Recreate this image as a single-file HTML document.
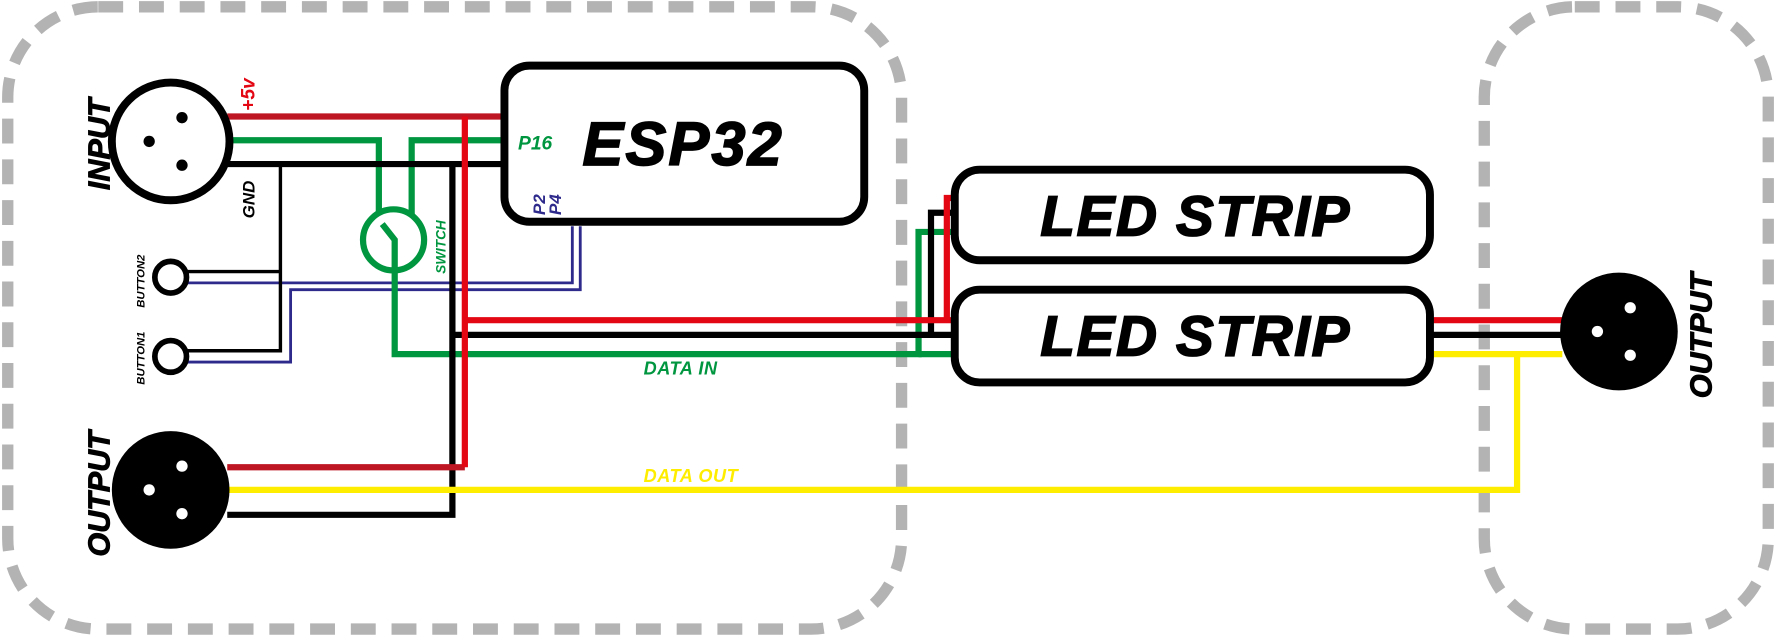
<!DOCTYPE html>
<html><head><style>html,body{margin:0;padding:0;background:#fff}svg{display:block}
text{font-family:"Liberation Sans",sans-serif;font-weight:bold;font-style:italic}</style></head>
<body>
<svg width="1776" height="637" viewBox="0 0 1568 563" xmlns="http://www.w3.org/2000/svg">
<g fill="none" stroke="#b3b3b3" stroke-width="10" stroke-dasharray="22 14">
<rect x="6" y="6" width="790" height="550" rx="80"/>
<rect x="1311" y="6" width="251" height="550" rx="80"/>
</g>
<g fill="none" stroke-width="5.5">
<g stroke="#2e2a8c" stroke-width="2.5">
<polyline points="165,250 505,250 505,200"/>
<polyline points="165,320 256,320 256,256 512,256 512,200"/>
</g>
<g stroke="#000" stroke-width="3">
<polyline points="247,145 247,310 165,310"/>
<line x1="165" y1="240" x2="247" y2="240"/>
</g>
<polyline stroke="#be1622" points="200,103 445,103"/>
<polyline stroke="#009640" points="200,124 334,124 334,190"/>
<polyline stroke="#009640" points="445,124 363,124 363,190"/>
<polyline stroke="#000" points="200,145 445,145"/>
<circle cx="347" cy="212" r="27" stroke="#009640"/>
<polyline stroke="#009640" points="337,198 348,212 348,313 811,313 811,205 843,205"/>
<polyline stroke="#009640" points="811,313 843,313"/>
<polyline stroke="#000" points="200,455 399,455 399,145"/>
<polyline stroke="#000" points="399,296 843,296"/>
<polyline stroke="#000" points="822,296 822,188 843,188"/>
<polyline stroke="#be1622" points="200,413 410,413"/>
<polyline stroke="#e30613" points="410,413 410,103"/>
<polyline stroke="#e30613" points="410,283 843,283"/>
<polyline stroke="#e30613" points="836,283 836,175 843,175"/>
<polyline stroke="#ffed00" points="200,433 1340,433 1340,313 1380,313"/>
<polyline stroke="#ffed00" points="1263,313 1340,313"/>
<polyline stroke="#e30613" points="1263,283 1380,283"/>
<polyline stroke="#000" points="1263,296 1380,296"/>
</g>
<g stroke="#000" stroke-width="7" fill="#fff">
<rect x="445" y="58" width="318" height="138" rx="22"/>
<rect x="843" y="150" width="420" height="80" rx="22"/>
<rect x="843" y="256" width="420" height="82" rx="22"/>
<circle cx="150" cy="125" r="52"/>
<circle cx="150" cy="245" r="14" stroke-width="5"/>
<circle cx="150" cy="315" r="14" stroke-width="5"/>
</g>
<g fill="#000"><circle cx="160" cy="104" r="5"/><circle cx="131" cy="125" r="5"/><circle cx="160" cy="146" r="5"/>
<circle cx="150" cy="433" r="52"/><circle cx="1430" cy="293" r="52"/></g>
<g fill="#fff"><circle cx="160" cy="412" r="5"/><circle cx="131" cy="433" r="5"/><circle cx="160" cy="454" r="5"/>
<circle cx="1440" cy="272" r="5"/><circle cx="1411" cy="293" r="5"/><circle cx="1440" cy="314" r="5"/></g>
<g stroke-width="1.5">
<text x="603" y="146" font-size="54" text-anchor="middle" stroke="#000" letter-spacing="2">ESP32</text>
<text x="1056" y="208" font-size="50" text-anchor="middle" stroke="#000" letter-spacing="1.5">LED STRIP</text>
<text x="1056" y="314" font-size="50" text-anchor="middle" stroke="#000" letter-spacing="1.5">LED STRIP</text>
</g>
<text x="457" y="132" font-size="17" fill="#009640">P16</text>
<text x="568" y="331" font-size="16" fill="#009640" letter-spacing="0.5">DATA IN</text>
<text x="568" y="426" font-size="16" fill="#ffed00" letter-spacing="0.5">DATA OUT</text>
<text transform="translate(224,98) rotate(-90)" font-size="17" fill="#e30613">+5v</text>
<text transform="translate(224,193) rotate(-90)" font-size="15" fill="#000" font-style="normal">GND</text>
<text transform="translate(393,242) rotate(-90)" font-size="12" fill="#009640">SWITCH</text>
<text transform="translate(481,190) rotate(-90)" font-size="15" fill="#2e2a8c">P2</text>
<text transform="translate(495,190) rotate(-90)" font-size="15" fill="#2e2a8c">P4</text>
<text transform="translate(127,272) rotate(-90)" font-size="10" fill="#000">BUTTON2</text>
<text transform="translate(127,340) rotate(-90)" font-size="10" fill="#000">BUTTON1</text>
<text transform="translate(96,168) rotate(-90)" font-size="27" fill="#000" stroke="#000" stroke-width="0.8">INPUT</text>
<text transform="translate(96,492) rotate(-90)" font-size="27" fill="#000" stroke="#000" stroke-width="0.8">OUTPUT</text>
<text transform="translate(1512,352) rotate(-90)" font-size="27" fill="#000" stroke="#000" stroke-width="0.8">OUTPUT</text>
</svg>
</body></html>
